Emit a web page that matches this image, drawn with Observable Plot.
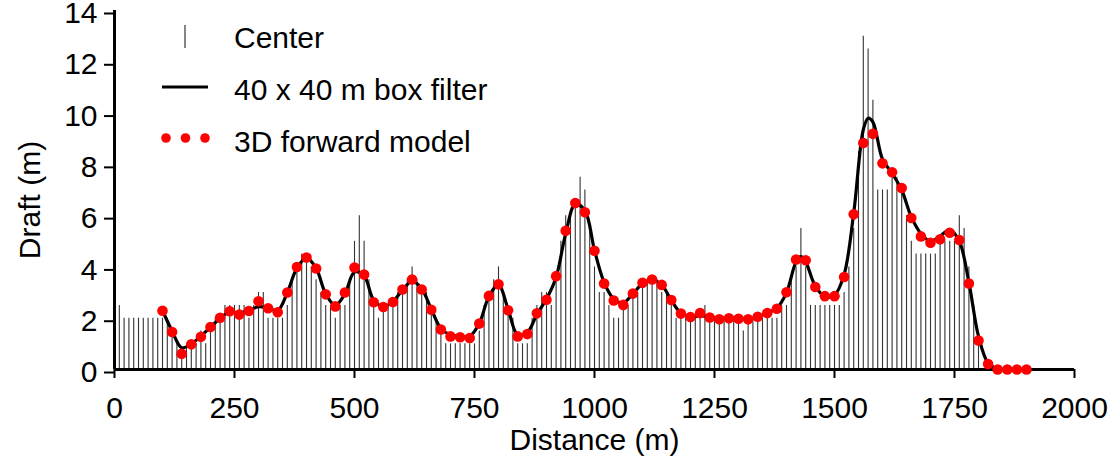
<!DOCTYPE html>
<html><head><meta charset="utf-8">
<script src="https://cdn.jsdelivr.net/npm/d3@7"></script>
<script src="https://cdn.jsdelivr.net/npm/@observablehq/plot@0.6"></script>
<style>
body{margin:0;background:#fff;}
#wrap{position:relative;width:1114px;height:460px;font-family:"Liberation Sans",Arial,Helvetica,sans-serif;}
#wrap svg{position:absolute;left:0;top:0;}
</style></head><body><div id="wrap"></div>
<script>
// Center draft (vertical sticks), every 10 m from 10 to 1800 m
const centerDist = d3.range(10, 1801, 10);
const centerDraft = [
  2.5,2,2,2,2,2,2,2,2,2,
  2,1.5,1,0.5,1,1,1,1.5,1,1.5,
  2,2,2.5,2.5,2.5,2.5,2.5,2,2.5,3,
  3,2,2,2,2,2.5,3.5,4,4.5,4.5,
  4,3.5,3,2.5,2.5,2,2.5,2.5,3.5,5,
  6,5,3.5,2.5,2,2.5,2.5,2.5,3,3,
  3.5,4,3.5,3,3,2.5,2,1.5,1,1,
  1,1,1,1,1,1.5,2.5,3,3.5,4,
  3,2.5,2,1,1,1,2,2.5,3,3,
  2.5,3.5,5,6,6,6.5,7.5,7,5.5,4,
  3,3,2.5,2,2,2.5,2.5,3,3,3.5,
  3.5,3.5,3.5,3,3,2.5,2,2,2,2,
  2,2,2.5,2,2,2,2,2,2,2,
  1.5,2,2,2,2,2,2,2,2.5,2.5,
  3.5,4,5.5,4,2.5,2.5,2.5,2.5,2.5,2.5,
  2.5,3,4,5.5,8.5,13,12.5,10.5,7,7,
  7,7.5,7.5,7,6,5,4.5,4.5,4.5,4.5,
  4.5,5,5,5,5,6,5.5,4,2.5,1
];
// 3D forward model, every 20 m from 100 to 1900 m
const modelDist = d3.range(100, 1901, 20);
const modelDraft = [
  2.29,1.46,0.61,0.98,1.28,1.66,2.02,2.27,2.14,2.28,
  2.66,2.39,2.23,3.0,4.0,4.37,3.94,2.93,2.46,3.0,
  3.98,3.70,2.62,2.44,2.63,3.12,3.51,3.12,2.33,1.56,
  1.29,1.26,1.23,1.79,2.87,3.32,2.31,1.29,1.38,2.19,
  2.72,3.64,5.41,6.49,6.13,4.63,3.35,2.69,2.52,2.96,
  3.38,3.51,3.30,2.71,2.18,2.05,2.2,2.03,1.96,2.0,
  1.98,1.96,2.06,2.2,2.37,3.01,4.29,4.26,3.22,2.86,
  2.86,3.61,6.05,8.83,9.19,8.04,7.69,7.08,5.91,5.19,
  4.94,5.08,5.33,5.05,3.35,1.13,0.21,0,0,0,
  0
];
// 40 x 40 m box filter
const filterDist = [
  100,120,140,160,180,200,220,240,260,280,
  300,320,340,360,380,400,420,440,460,480,
  500,520,540,560,580,600,620,640,660,680,
  700,720,740,760,780,800,820,840,860,880,
  900,920,940,960,980,1000,1020,1040,1060,1080,
  1100,1120,1140,1160,1180,1200,1220,1240,1260,1280,
  1300,1320,1340,1360,1380,1400,1420,1430,1440,1460,
  1480,1500,1520,1540,1560,1570,1580,1600,1620,1640,
  1660,1680,1700,1720,1740,1760,1780,1800,1820,1840,
  1860,1880,1900
];
const filterDraft = [
  2.3,1.5,0.85,1.0,1.3,1.65,2.0,2.25,2.2,2.3,
  2.45,2.4,2.3,3.0,3.95,4.35,3.95,2.95,2.5,2.95,
  3.8,3.65,2.7,2.45,2.65,3.1,3.45,3.15,2.35,1.6,
  1.35,1.3,1.3,1.8,2.85,3.3,2.35,1.35,1.45,2.15,
  2.75,3.6,5.3,6.45,6.2,4.65,3.4,2.75,2.6,2.95,
  3.35,3.5,3.3,2.7,2.2,2.05,2.1,2.05,2.0,2.0,
  2.0,1.98,2.05,2.2,2.4,3.0,4.2,4.4,4.2,3.25,
  2.85,2.9,3.7,6.1,9.35,9.8,9.65,8.2,7.65,7.0,
  5.95,5.3,5.0,5.2,5.45,5.0,3.4,1.3,0.25,0.02,
  0,0,0
];
const xTicks = [0,250,500,750,1000,1250,1500,1750,2000];
const yTicks = [0,2,4,6,8,10,12,14];
const xLabel = "Distance (m)";
const yLabel = "Draft (m)";
const legendLabels = ["Center","40 x 40 m box filter","3D forward model"];

const centerData = centerDist.map((d,i)=>({d, v:centerDraft[i]}));
const modelData = modelDist.map((d,i)=>({d, v:modelDraft[i]}));
const filterData = filterDist.map((d,i)=>({d, v:filterDraft[i]}));

const FONT = 30;
const chart = Plot.plot({
  width: 1114, height: 460,
  marginLeft: 114, marginRight: 40, marginTop: 10, marginBottom: 91,
  style: {fontFamily: '"Liberation Sans",Arial,Helvetica,sans-serif', color: "#000", background: "#fff", overflow: "visible"},
  x: {domain: [0, 2000]},
  y: {domain: [0, 14]},
  marks: [
    Plot.ruleX(centerData, {x: "d", y1: 0, y2: "v", stroke: "#333", strokeWidth: 1.1}),
    Plot.axisX({ticks: xTicks, tickSize: 9, tickPadding: 18, fontSize: FONT, strokeWidth: 2, tickFormat: d3.format("d"), label: null}),
    Plot.axisY({ticks: yTicks, tickSize: 10, tickPadding: 7, fontSize: FONT, strokeWidth: 2, dy: 3, label: null}),
    Plot.ruleY([0], {strokeWidth: 3, stroke: "#000"}),
    Plot.ruleX([0], {strokeWidth: 3, stroke: "#000"}),
    Plot.line(filterData, {x: "d", y: "v", stroke: "#000", strokeWidth: 3.2, curve: "catmull-rom"}),
    Plot.dot(modelData, {x: "d", y: "v", r: 5.3, fill: "#ff0000", stroke: "none"}),
    Plot.text([xLabel], {text: d => d, frameAnchor: "bottom", lineAnchor: "middle", textAnchor: "middle", dy: 71, fontSize: FONT, fill: "#000"}),
    Plot.text([yLabel], {text: d => d, frameAnchor: "left", lineAnchor: "middle", textAnchor: "middle", dx: -84, dy: 10, rotate: -90, fontSize: FONT, fill: "#000"})
  ]
});
const wrap = document.getElementById("wrap");
wrap.appendChild(chart);

// Legend overlay (inside plot area, top-left)
const leg = d3.create("svg").attr("width", 1114).attr("height", 460)
  .style("font-family", '"Liberation Sans",Arial,Helvetica,sans-serif');
leg.append("line").attr("x1", 185).attr("x2", 185).attr("y1", 25).attr("y2", 48)
  .attr("stroke", "#333").attr("stroke-width", 1.2);
leg.append("line").attr("x1", 162).attr("x2", 208).attr("y1", 87).attr("y2", 87)
  .attr("stroke", "#000").attr("stroke-width", 3);
[166, 185.5, 205].forEach(cx => leg.append("circle").attr("cx", cx).attr("cy", 138).attr("r", 4.8).attr("fill", "#ff0000"));
[48, 100, 152].forEach((y, i) => leg.append("text").attr("x", 234).attr("y", y)
  .attr("font-size", FONT).attr("fill", "#000").text(legendLabels[i]));
wrap.appendChild(leg.node());
</script></body></html>
